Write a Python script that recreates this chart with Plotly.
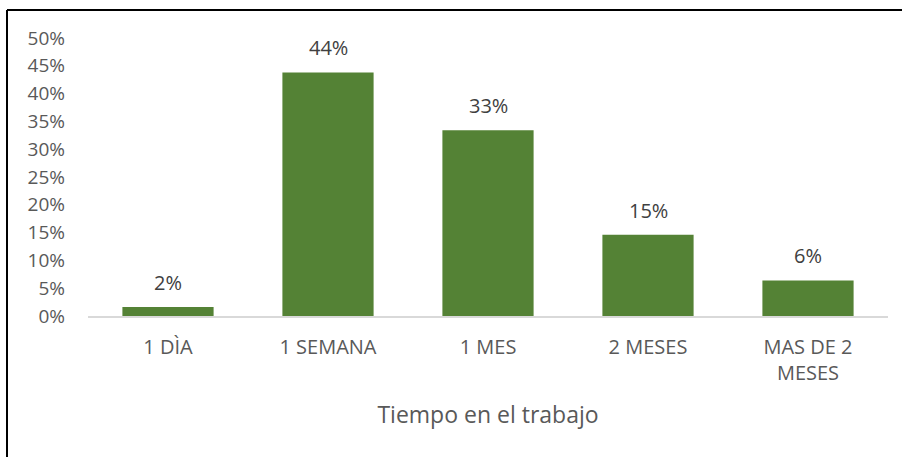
import plotly.graph_objects as go

categories = ["1 DÌA", "1 SEMANA", "1 MES", "2 MESES", "MAS DE 2<br>MESES"]
values = [0.016, 0.438, 0.334, 0.146, 0.064]
labels = ["2%", "44%", "33%", "15%", "6%"]
tick_vals = [i * 0.05 for i in range(11)]
tick_text = [f"{i*5}%" for i in range(11)]

FONT = "Open Sans"
fig = go.Figure(go.Bar(
    x=categories, y=values,
    marker=dict(color="#548235", line=dict(width=0)),
))

for c, v, t in zip(categories, values, labels):
    fig.add_annotation(x=c, y=v, text=t, showarrow=False, yanchor="bottom",
                       yshift=9, font=dict(family=FONT, size=20, color="#404040"))

L, R, T, B = 88, 14, 38, 141
W, H = 902, 457
pw, ph = W - L - R, H - T - B

def px(x):
    return (x - L) / pw

def py(y):
    return (H - B - y) / ph

fig.update_layout(
    width=W, height=H,
    margin=dict(l=L, r=R, t=T, b=B),
    paper_bgcolor="white", plot_bgcolor="white",
    bargap=0.43, showlegend=False,
    font=dict(family=FONT, color="#595959"),
    xaxis=dict(
        showgrid=False, showline=True, linecolor="#d9d9d9", linewidth=1.5,
        ticks="", tickfont=dict(size=20, color="#595959"), ticklabelstandoff=12,
        title=dict(text="Tiempo en el trabajo", font=dict(size=23, color="#595959"), standoff=22),
    ),
    yaxis=dict(
        range=[0, 0.5], tickvals=tick_vals, ticktext=tick_text,
        showgrid=False, showline=False, zeroline=False, ticks="",
        tickfont=dict(size=19, color="#595959"), ticklabelstandoff=22,
    ),
    shapes=[
        dict(type="line", xref="paper", yref="paper", x0=px(7), x1=px(902), y0=py(10), y1=py(10),
             line=dict(color="black", width=2)),
        dict(type="line", xref="paper", yref="paper", x0=px(7), x1=px(7), y0=py(10), y1=py(457),
             line=dict(color="black", width=2)),
    ],
)
fig.write_html("out.html", config={"displayModeBar": False},
               post_script="document.body.style.margin='0';")
